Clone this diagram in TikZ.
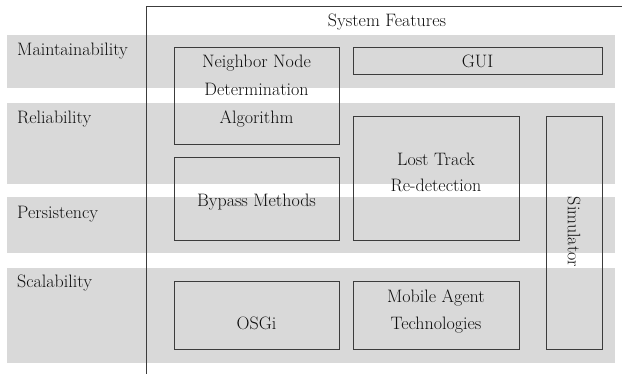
\documentclass[tikz,border=0pt]{standalone}
\definecolor{bandgray}{RGB}{217,217,217}
\definecolor{linegray}{RGB}{60,60,60}
\definecolor{txt}{RGB}{15,15,15}
\tikzset{
  band/.style={fill=bandgray, draw=none},
  fbox/.style={draw=linegray, line width=0.9pt, anchor=north west, inner sep=0pt, outer sep=0pt},
  lbl/.style={anchor=base, inner sep=0pt, text=txt, font=\fontsize{18}{21}\selectfont},
  side/.style={anchor=base west, inner sep=0pt, text=txt, font=\fontsize{18}{21}\selectfont},
}
\begin{document}
\begin{tikzpicture}[x=1pt,y=-1pt]
\useasboundingbox (0,0) rectangle (622,374);
% bands
\fill[band] (7,35) rectangle (615,88);
\fill[band] (7,103) rectangle (615,184);
\fill[band] (7,197) rectangle (615,253);
\fill[band] (7,268) rectangle (615,363);
% frame
\coordinate (fbot) at (146,374);
\coordinate (fcorner) at (146,7);
\coordinate (fright) at (622,7);
\draw[linegray, line width=1pt] (fbot) -- (fcorner) -- (fright);
% side labels
\node[side] (maint) at (17,56) {Maintainability};
\node[side] (rel) at (17,124) {Reliability};
\node[side] (pers) at (17,219) {Persistency};
\node[side] (scal) at (17,288) {Scalability};
\node[lbl] (sysf) at (387,27) {System Features};
% boxes
\node[fbox, minimum width=165pt, minimum height=97pt] (nn) at (174,47) {};
\node[fbox, minimum width=249pt, minimum height=27pt] (gui) at (353,47) {};
\node[fbox, minimum width=165pt, minimum height=83pt] (bp) at (174,157) {};
\node[fbox, minimum width=166pt, minimum height=124pt] (lt) at (353,116) {};
\node[fbox, minimum width=56pt, minimum height=233pt] (sim) at (546,116) {};
\node[fbox, minimum width=165pt, minimum height=68pt] (osgi) at (174,281) {};
\node[fbox, minimum width=166pt, minimum height=68pt] (ma) at (353,281) {};
% box texts
\node[lbl] (nn1) at (256.5,68) {Neighbor Node};
\node[lbl] (nn2) at (256.5,96) {Determination};
\node[lbl] (nn3) at (256.5,124) {Algorithm};
\node[lbl] (guit) at (477.5,68) {GUI};
\node[lbl] (bpt) at (256.5,207) {Bypass Methods};
\node[lbl] (lt1) at (436,166) {Lost Track};
\node[lbl] (lt2) at (436,192) {Re-detection};
\node[lbl, anchor=center, rotate=-90] (simt) at (574,232) {Simulator};
\node[lbl] (osgit) at (256.5,330) {OSGi};
\node[lbl] (ma1) at (436,303) {Mobile Agent};
\node[lbl] (ma2) at (436,330) {Technologies};
\end{tikzpicture}
\end{document}
